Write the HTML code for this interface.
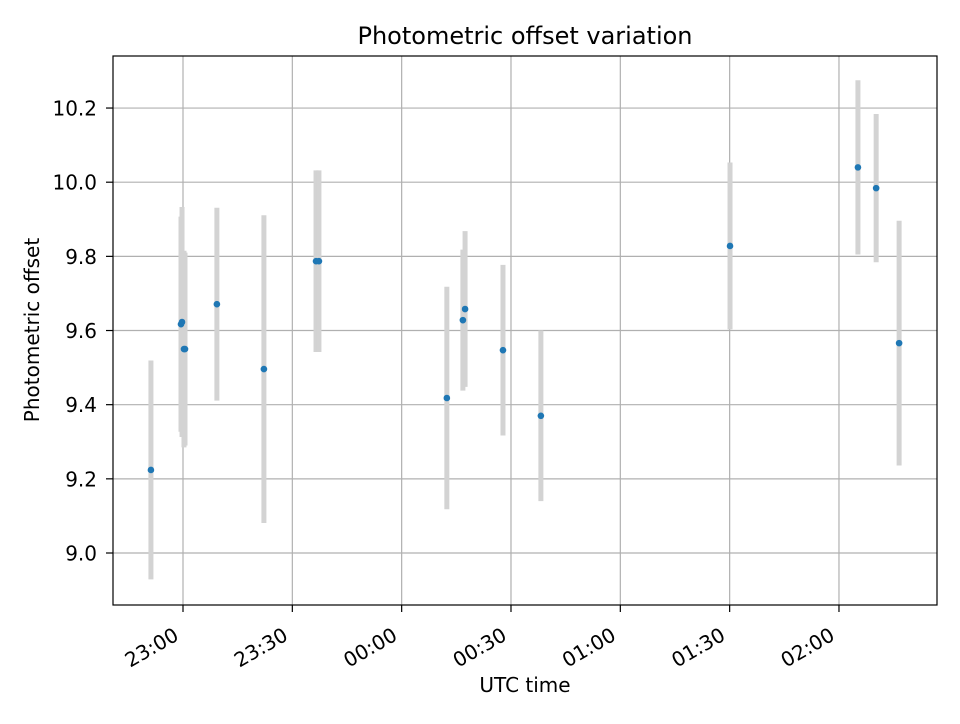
<!DOCTYPE html>
<html><head><meta charset="utf-8"><style>
body{margin:0;background:#fff;font-family:"DejaVu Sans","Liberation Sans",sans-serif}
</style></head><body>
<svg id="c" width="960" height="720" font-family="DejaVu Sans, Liberation Sans, sans-serif"></svg>
<script>
// minutes after 23:00 UTC
const times=[-8.8,-0.55,-0.27,0.27,0.55,9.3,22.2,36.5,37.3,72.4,76.8,77.4,87.8,98.2,150.1,185.2,190.2,196.5];
const values=[9.224,9.617,9.623,9.55,9.55,9.671,9.496,9.787,9.787,9.418,9.628,9.658,9.547,9.37,9.828,10.04,9.984,9.566];
const errors=[0.295,0.29,0.31,0.265,0.26,0.26,0.415,0.245,0.245,0.30,0.19,0.21,0.23,0.23,0.225,0.235,0.20,0.33];
const yTicks=[9.0,9.2,9.4,9.6,9.8,10.0,10.2];
const xTickMin=[0,30,60,90,120,150,180];
const xTickLabels=["23:00","23:30","00:00","00:30","01:00","01:30","02:00"];
const NS="http://www.w3.org/2000/svg";
const svg=document.getElementById('c');
const L=113,R=937,T=56,B=605;
const X=m=>183+m*(109.33/30);
const Y=v=>553-(v-9.0)*370.8;
function el(t,a,p){const e=document.createElementNS(NS,t);for(const k in a)e.setAttribute(k,a[k]);(p||svg).appendChild(e);return e;}
const grid=el('g',{});
yTicks.forEach((v,i)=>{
  el('line',{x1:L,x2:R,y1:Y(v),y2:Y(v),stroke:'#b0b0b0','stroke-width':1.2},grid);
  el('line',{x1:L-7,x2:L,y1:Y(v),y2:Y(v),stroke:'#000','stroke-width':1.2});
  const tx=el('text',{x:L-16,y:Y(v)+7.5,'text-anchor':'end','font-size':20});
  tx.textContent=v.toFixed(1);
  
  
});
xTickMin.forEach((m,i)=>{
  el('line',{x1:X(m),x2:X(m),y1:T,y2:B,stroke:'#b0b0b0','stroke-width':1.2},grid);
  el('line',{x1:X(m),x2:X(m),y1:B,y2:B+7,stroke:'#000','stroke-width':1.2});
  const ax=X(m)-3, ay=B+34;
  const tx=el('text',{x:ax,y:ay,'text-anchor':'end','font-size':20,transform:`rotate(-30 ${ax} ${ay})`});
  tx.textContent=xTickLabels[i];
  
  
});
const bars=el('g',{});
times.forEach((m,i)=>{
  const e=el('line',{x1:X(m),x2:X(m),y1:Y(values[i]-errors[i]),y2:Y(values[i]+errors[i]),stroke:'#d3d3d3','stroke-width':5},bars);
  
  
});
times.forEach((m,i)=>{
  const c=el('circle',{cx:X(m),cy:Y(values[i]),r:3.3,fill:'#1f77b4'});
  
  
});
const fr=el('rect',{x:L,y:T,width:R-L,height:B-T,fill:'none',stroke:'#000','stroke-width':1.2});


const ti=el('text',{x:(L+R)/2,y:44,'text-anchor':'middle','font-size':24});
ti.textContent='Photometric offset variation';


const xl=el('text',{x:(L+R)/2,y:692,'text-anchor':'middle','font-size':20});
xl.textContent='UTC time';


const yl=el('text',{x:39,y:330,'text-anchor':'middle','font-size':20,transform:'rotate(-90 39 330)'});
yl.textContent='Photometric offset';


</script>
</body></html>
